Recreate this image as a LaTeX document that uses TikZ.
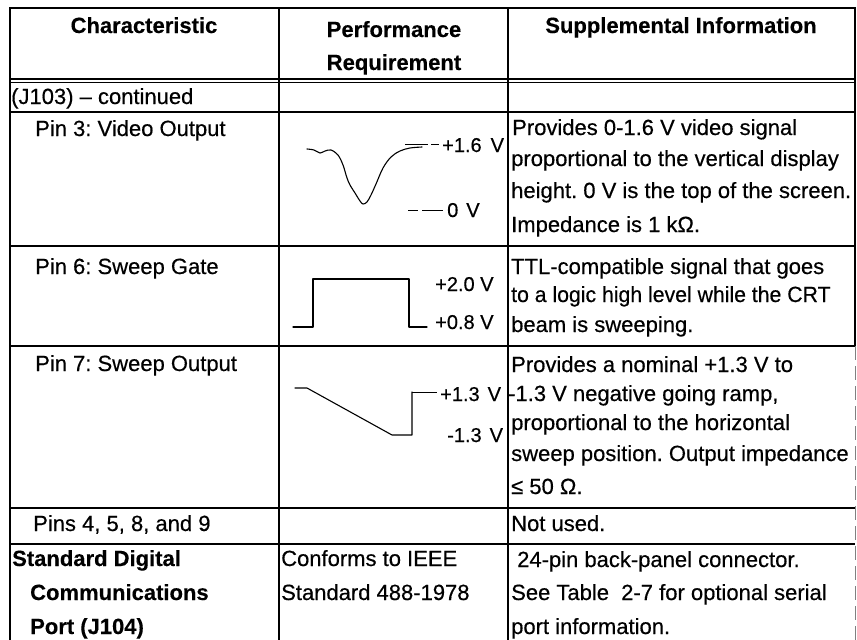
\documentclass[tikz,border=0pt]{standalone}
\usepackage{fontspec}
\setmainfont{Liberation Sans}[UprightFeatures={FakeBold=0.45},BoldFeatures={FakeBold=0.3}]
\usepackage{graphicx}
\frenchspacing
\begin{document}
\begin{tikzpicture}[x=1pt,y=-1pt,
  txt/.style={anchor=base west, inner sep=0pt, font=\fontsize{22}{26}\selectfont},
  btxt/.style={anchor=base west, inner sep=0pt, font=\fontsize{22}{26}\selectfont\bfseries},
  hdr/.style={anchor=base, inner sep=0pt, font=\fontsize{22}{26}\selectfont\bfseries},
  lbl/.style={anchor=base west, inner sep=0pt, font=\fontsize{20}{24}\selectfont},
  hrule/.style={line width=1.5pt},
  vrule/.style={line width=2.2pt},
  wave/.style={line width=1.1pt, line join=round, line cap=round},
  lead/.style={line width=0.9pt}
]
\useasboundingbox (0,0) rectangle (857,640);

% ---- table rules ----
\draw[hrule] (9,8) -- (855,8);
\draw[line width=1.1pt] (9,79) -- (855,79);
\draw[line width=1.1pt] (9,82.5) -- (855,82.5);
\draw[hrule] (9,112) -- (855,112);
\draw[hrule] (9,246) -- (855,246);
\draw[hrule] (9,346) -- (855,346);
\draw[hrule] (9,508) -- (855,508);
\draw[hrule] (9,544) -- (855,544);
\draw[vrule] (10,7) -- (10,640);
\draw[vrule] (279,7) -- (279,640);
\draw[line width=2.6pt] (508,7) -- (508,640);
\draw[line width=1.8pt] (855,7) -- (855,346);
\draw[line width=0.8pt, gray, dash pattern=on 14pt off 6pt] (855,346) -- (855,640);

% ---- header ----
\node[hdr] (hChar) at (144,33) {Characteristic};
\node[hdr] (hPerf1) at (394,37) {Performance};
\node[hdr] (hPerf2) at (394,70) {Requirement};
\node[hdr] (hSupp) at (681,33) {Supplemental Information};

% ---- J103 row ----
\node[txt] (j103) at (11,104) {(J103) -- continued};

% ---- column 1 ----
\node[txt] (pin3) at (35,136) {Pin 3: Video Output};
\node[txt] (pin6) at (35,274) {Pin 6: Sweep Gate};
\node[txt] (pin7) at (35,371) {Pin 7: Sweep Output};
\node[txt] (pins4) at (33,531) {Pins 4, 5, 8, and 9};
\node[btxt] (sdc1) at (12,566) {Standard Digital};
\node[btxt] (sdc2) at (30,600) {Communications};
\node[btxt] (sdc3) at (30,634) {Port (J104)};

% ---- column 2 ----
\node[txt] (ieee1) at (281,566) {Conforms to IEEE};
\node[txt] (ieee2) at (281,600) {Standard 488-1978};

% Pin 3 video waveform
\draw[wave] plot[smooth, tension=0.55] coordinates {
  (307,149) (314,150) (320,153) (325,151) (331,150) (338,155) (343,165)
  (347,178) (350,185) (355,193) (360,201) (363,204) (367,202) (371,195)
  (376,184) (383,168) (391,157) (400,151) (410,148) (422,147)};
\draw[lead] (405,144) -- (428,144);
\draw[lead] (431,144) -- (439,144);
\node[lbl] (v16) at (442,152) {+1.6\hspace{9pt}V};
\draw[lead] (408,210) -- (418,210);
\draw[lead] (422,210) -- (443,210);
\node[lbl] (v0) at (447,217) {0\hspace{8pt}V};

% Pin 6 sweep gate waveform
\draw[wave] (293,327) -- (313,327) -- (313,279) -- (409,279) -- (409,327) -- (427,327);
\node[lbl] (v20) at (435,291) {+2.0 V};
\node[lbl] (v08) at (435,329) {+0.8 V};

% Pin 7 sweep output waveform
\draw[wave] (295,388) -- (307,388) -- (392,435) -- (412,435) -- (412,392);
\draw[lead] (412,392) -- (437,392);
\node[lbl] (v13p) at (440,401) {+1.3\hspace{8pt}V};
\node[lbl] (v13m) at (447,442) {-1.3\hspace{8pt}V};

% ---- column 3 ----
\node[txt] (s3a) at (512,135) {Provides 0-1.6 V video signal};
\node[txt] (s3b) at (511,166) {proportional to the vertical display};
\node[txt] (s3c) at (511,198) {height. 0 V is the top of the screen.};
\node[txt] (s3d) at (511,232) {Impedance is 1 kΩ.};

\node[txt] (s6a) at (511,274) {TTL-compatible signal that goes};
\node[txt] (s6b) at (511,302) {\scalebox{0.965}[1]{to a logic high level while the CRT}};
\node[txt] (s6c) at (511,332) {beam is sweeping.};

\node[txt] (s7a) at (511,372) {Provides a nominal +1.3 V to};
\node[txt] (s7b) at (508,401) {-1.3 V negative going ramp,};
\node[txt] (s7c) at (511,430) {proportional to the horizontal};
\node[txt] (s7d) at (511,461) {sweep position. Output impedance};
\node[txt] (s7e) at (511,494) {≤ 50 Ω.};

\node[txt] (s4) at (511,531) {Not used.};

\node[txt] (sda) at (517,567) {24-pin back-panel connector.};
\node[txt] (sdb) at (511,600) {See Table\ \ 2-7 for optional serial};
\node[txt] (sdc) at (511,634) {port information.};
\end{tikzpicture}
\end{document}
